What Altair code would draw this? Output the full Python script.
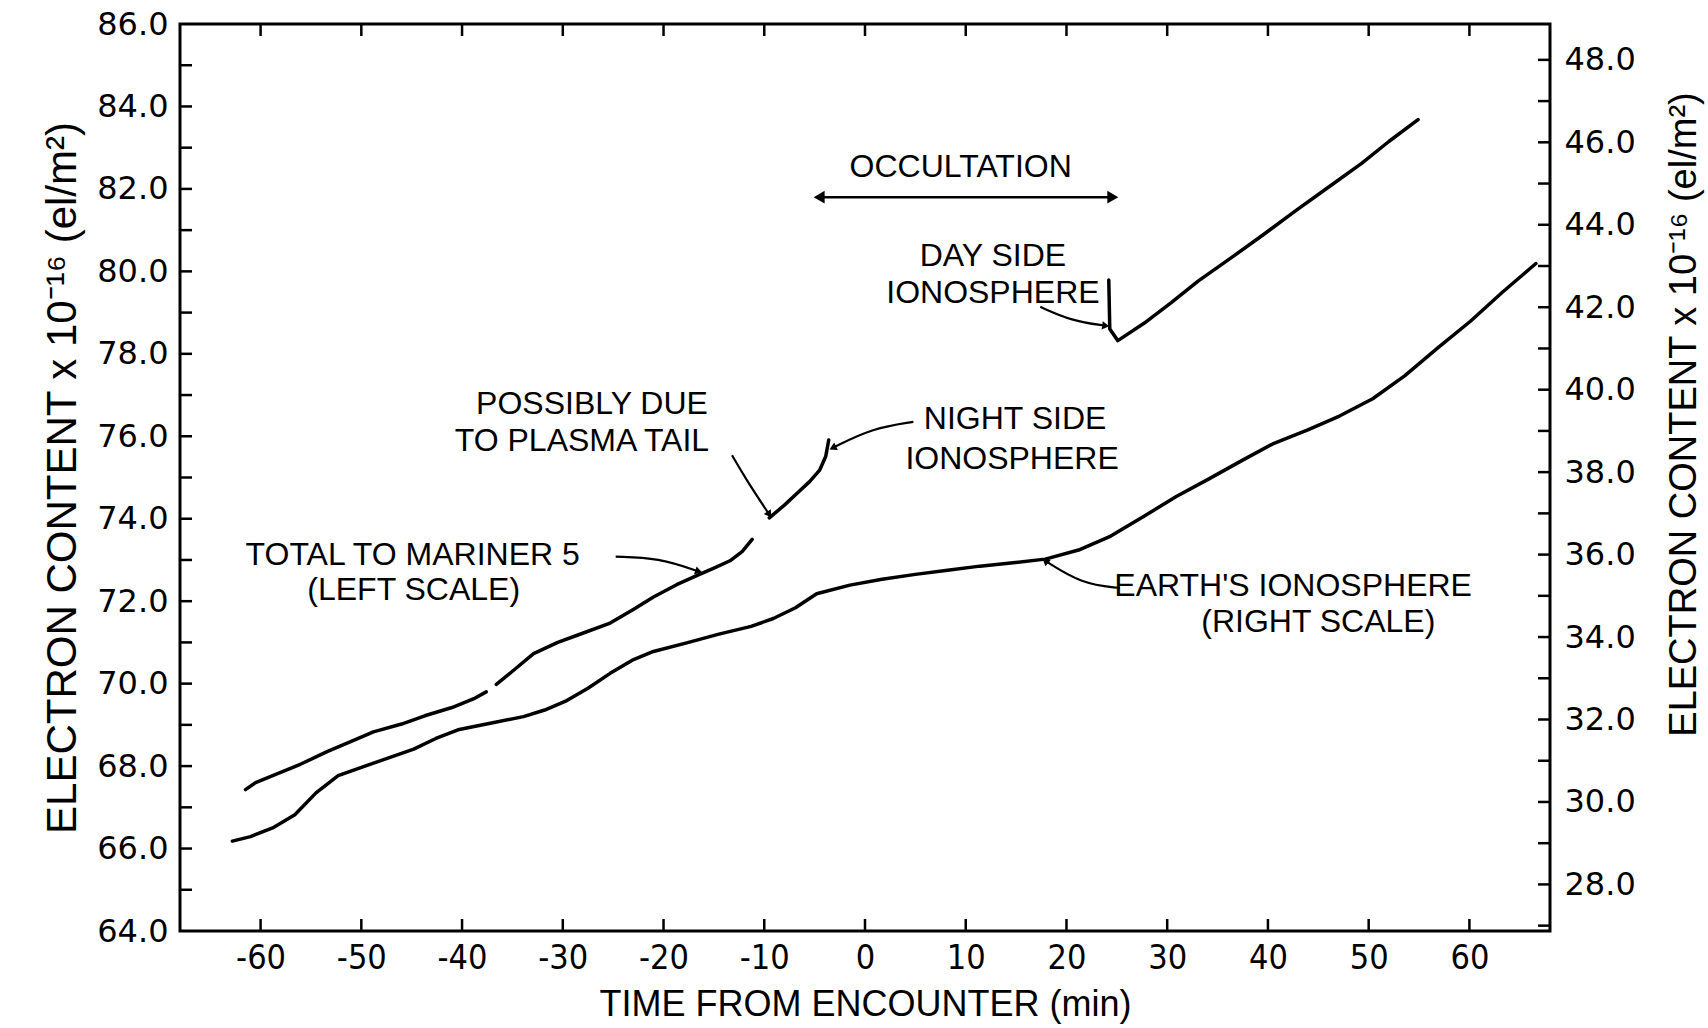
import altair as alt
import pandas as pd

# ---------------- data ----------------
# Total electron content to Mariner 5 (left scale), segments separated by gaps
upper_seg = ["A"] * 12 + ["B"] * 14 + ["C"] * 7 + ["D"] * 13
upper_t = [-61.5, -60.5, -58.8, -56.0, -53.4, -51.0, -48.8, -46.0, -43.7, -41.0, -38.7, -37.6,
           -36.6, -35.0, -32.9, -30.5, -28.5, -25.3, -23.0, -21.0, -18.7, -16.6, -15.0, -13.4, -12.2, -11.2,
           -9.5, -8.0, -6.9, -5.5, -4.5, -3.9, -3.6,
           24.2, 24.3, 25.1, 27.7, 30.4, 33.1, 36.3, 39.6, 42.8, 46.0, 49.3, 52.0, 54.9]
upper_v = [67.43, 67.60, 67.77, 68.05, 68.35, 68.60, 68.83, 69.02, 69.22, 69.42, 69.65, 69.80,
           69.98, 70.30, 70.73, 71.00, 71.18, 71.47, 71.80, 72.10, 72.40, 72.63, 72.80, 72.98, 73.20, 73.50,
           74.02, 74.33, 74.58, 74.90, 75.18, 75.51, 75.91,
           79.79, 78.60, 78.32, 78.74, 79.24, 79.77, 80.32, 80.90, 81.48, 82.04, 82.62, 83.15, 83.68]

# Earth's ionosphere (right scale)
lower_t = [-62.8, -61.0, -58.8, -56.6, -54.5, -52.3, -50.2, -48.0, -44.8, -42.6, -40.4, -37.2,
           -33.9, -31.8, -29.6, -27.5, -25.3, -23.1, -21.0, -17.7, -14.5, -11.3, -9.1, -6.9,
           -4.8, -1.5, 1.7, 5.0, 8.2, 11.4, 14.7, 17.9, 21.2, 24.4, 27.7, 30.9, 34.1, 37.4,
           40.6, 43.9, 47.1, 50.4, 53.6, 56.8, 60.1, 63.3, 66.6]
lower_v = [29.05, 29.16, 29.37, 29.69, 30.22, 30.64, 30.82, 31.01, 31.28, 31.54, 31.75, 31.91,
           32.07, 32.23, 32.46, 32.76, 33.12, 33.44, 33.65, 33.86, 34.07, 34.26, 34.45, 34.71,
           35.05, 35.26, 35.40, 35.52, 35.62, 35.72, 35.80, 35.89, 36.11, 36.45, 36.93, 37.41, 37.83, 38.28,
           38.70, 39.02, 39.36, 39.78, 40.34, 41.00, 41.66, 42.37, 43.06]

x_ticks = [-60, -50, -40, -30, -20, -10, 0, 10, 20, 30, 40, 50, 60]
left_ticks = list(range(65, 86))
left_labels = list(range(64, 87, 2))
right_ticks = list(range(27, 49))
right_labels = list(range(28, 49, 2))

# annotation texts (position in time / left-scale units)
ann_text = ["OCCULTATION", "DAY  SIDE", "IONOSPHERE", "POSSIBLY  DUE", "TO  PLASMA  TAIL",
            "NIGHT  SIDE", "IONOSPHERE", "TOTAL  TO  MARINER  5", "(LEFT  SCALE)",
            "EARTH'S  IONOSPHERE", "(RIGHT  SCALE)"]
ann_t = [9.5, 12.7, 12.7, -27.1, -28.1, 14.9, 14.6, -44.9, -44.8, 42.5, 45.0]
ann_v = [82.54, 80.37, 79.47, 76.78, 75.88, 76.43, 75.46, 73.13, 72.27, 72.37, 71.49]

# occultation span arrow
occ_start, occ_end, occ_level = -4.55, 24.6, 81.80

# leader lines
lead_id = ["m"] * 3 + ["p"] * 3 + ["n"] * 3 + ["d"] * 3 + ["e"] * 3
lead_t = [-24.75, -20.5, -16.5, -13.2, -11.8, -9.5, 4.8, 0.8, -3.2, 17.4, 20.5, 23.9, 25.3, 21.5, 17.9]
lead_v = [73.08, 73.05, 72.72, 75.54, 74.95, 74.10, 76.35, 76.20, 75.72, 79.14, 78.80, 78.68, 72.32, 72.42, 72.98]
head_t = [-16.5, -9.5, -3.2, 23.9, 17.9]
head_v = [72.72, 74.10, 75.72, 78.68, 72.98]
head_angle = [108, 146, 244, 98, 310]

# ---------------- frames ----------------
W, H = 1370, 907
upper = pd.DataFrame({"t": upper_t, "v": upper_v, "seg": upper_seg, "i": range(len(upper_t))})
lower = pd.DataFrame({"t": lower_t, "v": lower_v, "i": range(len(lower_t))})
xt = pd.DataFrame({"t": x_ticks})
lt = pd.DataFrame({"v": left_ticks})
rt = pd.DataFrame({"v": right_ticks})
ann = pd.DataFrame({"t": ann_t, "v": ann_v, "txt": ann_text})
occ = pd.DataFrame({"t": [occ_start], "t1": [occ_end], "v": [occ_level]})
occ_heads = pd.DataFrame({"t": [occ_start, occ_end], "v": [occ_level, occ_level],
                          "shape": ["triangle-left", "triangle-right"]})
leads = pd.DataFrame({"t": lead_t, "v": lead_v, "id": lead_id, "i": range(len(lead_t))})
heads = pd.DataFrame({"t": head_t, "v": head_v, "a": head_angle})

xs = alt.Scale(domain=[-68, 68], nice=False, zero=False)
ls = alt.Scale(domain=[64, 86], nice=False, zero=False)
rs = alt.Scale(domain=[26.87, 48.87], nice=False, zero=False)

LABEL_FONT = "DejaVu Sans"
TXT_FONT = "Liberation Sans"
NARROW = "'DejaVu Sans Condensed', 'Liberation Sans', sans-serif"

x_axis = alt.Axis(values=x_ticks, labelExpr="'' + datum.value", ticks=False, domain=False,
                  grid=False, labelFont=NARROW, labelFontSize=34, labelPadding=10,
                  labelFlush=False, labelOverlap=False, labelColor="black",
                  title="TIME  FROM  ENCOUNTER  (min)", titleFont=TXT_FONT, titleFontSize=36,
                  titleFontWeight="normal", titlePadding=12, titleColor="black")

left_axis = alt.Axis(orient="left", values=left_labels, format=".1f", ticks=False, domain=False,
                     grid=False, labelFont=LABEL_FONT, labelFontSize=32, labelPadding=12,
                     labelOverlap=False, labelColor="black",
                     title="ELECTRON   CONTENT  x  10⁻¹⁶  (el/m²)", titleFont=TXT_FONT,
                     titleFontSize=42, titleFontWeight="normal", titlePadding=12, titleColor="black")

right_axis = alt.Axis(orient="right", values=right_labels, format=".1f", ticks=False, domain=False,
                      grid=False, labelFont=LABEL_FONT, labelFontSize=32, labelPadding=14,
                      labelOverlap=False, labelColor="black",
                      title="ELECTRON   CONTENT  x  10⁻¹⁶  (el/m²)", titleFont=TXT_FONT,
                      titleFontSize=38, titleFontWeight="normal", titlePadding=68,
                      titleAngle=270, titleY=390, titleColor="black")

X = alt.X("t:Q", scale=xs, axis=x_axis)

line_upper = alt.Chart(upper).mark_line(color="black", strokeWidth=3.5, strokeJoin="round",
                                        strokeCap="round").encode(
    x=X, y=alt.Y("v:Q", scale=ls, axis=left_axis), detail="seg:N", order="i:Q")

line_lower = alt.Chart(lower).mark_line(color="black", strokeWidth=3.5, strokeJoin="round",
                                        strokeCap="round").encode(
    x=X, y=alt.Y("v:Q", scale=rs, axis=right_axis), order="i:Q")

tick_style = dict(color="black", strokeWidth=2.5)
bottom_ticks = alt.Chart(xt).mark_rule(**tick_style).encode(
    x=X, y=alt.value(H), y2=alt.value(H - 12))
top_ticks = alt.Chart(xt).mark_rule(**tick_style).encode(
    x=X, y=alt.value(0), y2=alt.value(12))
left_tick_marks = alt.Chart(lt).mark_rule(**tick_style).encode(
    y=alt.Y("v:Q", scale=ls, axis=None), x=alt.value(0), x2=alt.value(12))
right_tick_marks = alt.Chart(rt).mark_rule(**tick_style).encode(
    y=alt.Y("v:Q", scale=rs, axis=None), x=alt.value(W - 12), x2=alt.value(W))

texts = alt.Chart(ann).mark_text(font=TXT_FONT, fontSize=32, color="black", align="center",
                                 baseline="middle").encode(
    x=X, y=alt.Y("v:Q", scale=ls, axis=None), text="txt:N")

occ_rule = alt.Chart(occ).mark_rule(color="black", strokeWidth=2.5).encode(
    x=X, x2="t1:Q", y=alt.Y("v:Q", scale=ls, axis=None))
occ_arrow = alt.Chart(occ_heads).mark_point(filled=True, color="black", size=160, opacity=1).encode(
    x=X, y=alt.Y("v:Q", scale=ls, axis=None),
    shape=alt.Shape("shape:N", scale=None))

lead_lines = alt.Chart(leads).mark_line(color="black", strokeWidth=2.2, interpolate="basis").encode(
    x=X, y=alt.Y("v:Q", scale=ls, axis=None), detail="id:N", order="i:Q")
lead_heads = alt.Chart(heads).mark_point(shape="triangle-up", filled=True, color="black",
                                         size=70, opacity=1).encode(
    x=X, y=alt.Y("v:Q", scale=ls, axis=None), angle=alt.Angle("a:Q", scale=None))

chart = alt.layer(
    line_upper, line_lower, bottom_ticks, top_ticks, left_tick_marks, right_tick_marks,
    texts, occ_rule, occ_arrow, lead_lines, lead_heads
).resolve_scale(y="independent").properties(
    width=W, height=H,
    autosize=alt.AutoSizeParams(type="none"),
    padding={"left": 180, "top": 24, "right": 158, "bottom": 97},
    background="white"
).configure_view(stroke="black", strokeWidth=3)

chart.save("out.html", embed_options={"renderer": "svg", "actions": False})
